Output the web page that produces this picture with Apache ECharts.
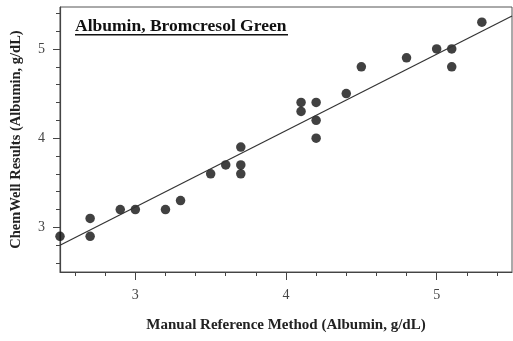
<!DOCTYPE html>
<html>
<head>
<meta charset="utf-8">
<script src="https://cdn.jsdelivr.net/npm/echarts@6/dist/echarts.min.js"></script>
<style>html,body{margin:0;padding:0;background:#fff}#c{width:513px;height:341px}</style>
</head>
<body>
<div id="c"></div>
<script>
// Data
const manualRef = [2.5, 2.7, 2.7, 2.9, 3.0, 3.2, 3.3, 3.5, 3.6, 3.7, 3.7, 3.7, 4.1, 4.1, 4.2, 4.2, 4.2, 4.4, 4.5, 4.8, 5.0, 5.1, 5.1, 5.3];
const chemWell  = [2.9, 3.1, 2.9, 3.2, 3.2, 3.2, 3.3, 3.6, 3.7, 3.7, 3.6, 3.9, 4.4, 4.3, 4.4, 4.2, 4.0, 4.5, 4.8, 4.9, 5.0, 5.0, 4.8, 5.3];
const fitX = [2.5, 5.5];
const fitY = [2.80, 5.37];
const xMajorTicks = [3, 4, 5];
const xMinorTicks = [2.6, 2.8, 3.2, 3.4, 3.6, 3.8, 4.2, 4.4, 4.6, 4.8, 5.2, 5.4];
const yMajorTicks = [3, 4, 5];
const yMinorTicks = [2.6, 2.8, 3.2, 3.4, 3.6, 3.8, 4.2, 4.4, 4.6, 4.8, 5.2, 5.4];
const titleText = 'Albumin, Bromcresol Green';
const xName = 'Manual Reference Method (Albumin, g/dL)';
const yName = 'ChemWell Results (Albumin, g/dL)';

const serif = '"Liberation Serif", "DejaVu Serif", serif';
const axisColor = '#444';
const chart = echarts.init(document.getElementById('c'));
const xr = {min: 2.5, max: 5.5};
const yr = {min: 2.5, max: 5.47};
chart.setOption({
  animation: false,
  grid: {left: 60, right: 1, top: 7, bottom: 69, show: true, borderColor: '#555', borderWidth: 1},
  xAxis: [
    {type: 'value', ...xr, splitLine: {show: false},
     axisLine: {lineStyle: {color: axisColor, width: 1.2}},
     axisTick: {customValues: xMajorTicks, length: 8, lineStyle: {color: axisColor}},
     axisLabel: {customValues: xMajorTicks, margin: 16, color: '#444', fontFamily: serif, fontSize: 14},
     name: xName, nameLocation: 'middle', nameGap: 46,
     nameTextStyle: {fontFamily: serif, fontWeight: 'bold', fontSize: 15, color: '#222'}},
    {type: 'value', ...xr, position: 'bottom', splitLine: {show: false},
     axisLine: {show: false},
     axisTick: {customValues: xMinorTicks, length: 4, lineStyle: {color: axisColor}},
     axisLabel: {show: false}}
  ],
  yAxis: [
    {type: 'value', ...yr, splitLine: {show: false},
     axisLine: {lineStyle: {color: axisColor, width: 1.2}},
     axisTick: {customValues: yMajorTicks, length: 7, lineStyle: {color: axisColor}},
     axisLabel: {customValues: yMajorTicks, margin: 15, color: '#444', fontFamily: serif, fontSize: 14},
     name: yName, nameLocation: 'middle', nameGap: 36,
     nameTextStyle: {fontFamily: serif, fontWeight: 'bold', fontSize: 14.5, color: '#222'}},
    {type: 'value', ...yr, position: 'left', splitLine: {show: false},
     axisLine: {show: false},
     axisTick: {customValues: yMinorTicks, length: 4, lineStyle: {color: axisColor}},
     axisLabel: {show: false}}
  ],
  graphic: [
    {type: 'text', left: 75, top: 17, style: {text: titleText, font: 'bold 17.5px ' + serif, fill: '#111'}},
    {type: 'rect', left: 75, top: 34, shape: {width: 213, height: 1.6}, style: {fill: '#111'}}
  ],
  series: [
    {type: 'line', data: fitX.map((x, i) => [x, fitY[i]]), symbol: 'none',
     lineStyle: {color: '#333', width: 1.2}, silent: true},
    {type: 'scatter', data: manualRef.map((x, i) => [x, chemWell[i]]), symbolSize: 9.5,
     itemStyle: {color: '#111'}, clip: false}
  ]
});
</script>
</body>
</html>
